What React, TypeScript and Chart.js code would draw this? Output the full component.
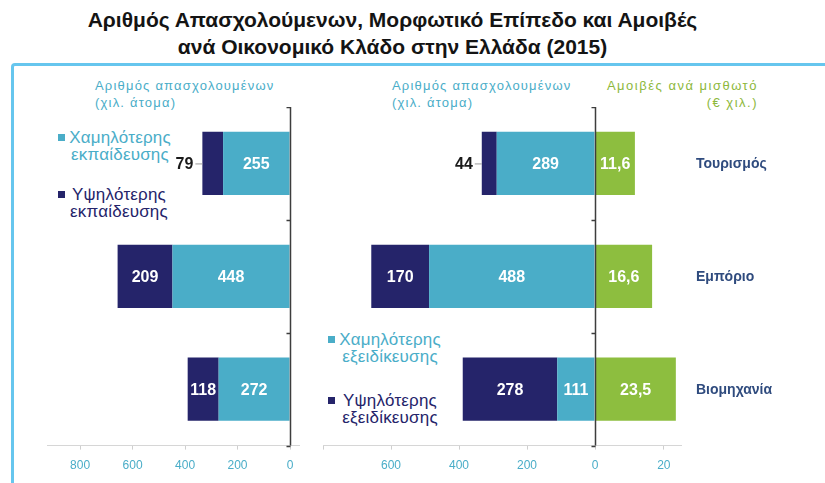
import React, { useEffect, useRef } from "react";
import { Chart, registerables } from "chart.js";

Chart.register(...registerables);

// ---------- data ----------
const categories = ["Τουρισμός", "Εμπόριο", "Βιομηχανία"];
// left panel: employed by education level (thousand persons)
const eduLow = [255, 448, 272];
const eduHigh = [79, 209, 118];
// right panel: employed by skill level (thousand persons)
const skillLow = [289, 488, 111];
const skillHigh = [44, 170, 278];
// right panel: compensation per employee (€ thousand)
const wages = [11.6, 16.6, 23.5];
// tick positions and which of them carry a label
const leftTicks = [0, 200, 400, 600, 800];
const leftTickLabels = [0, 200, 400, 600, 800];
const empTicks = [0, 200, 400, 600, 800];
const empTickLabels = [200, 400, 600];
const wageTicks = [0, 20];
const wageTickLabels = [0, 20];

// ---------- styles ----------
const LIGHT = "#4AADC8";
const NAVY = "#25246A";
const GREEN = "#8DBE3F";
const CAT_COLOR = "#2F4B7E";
const HEADER_BLUE = "#4AADC8";
const HEADER_GREEN = "#8DB83C";
const FONT = "'Liberation Sans', Arial, sans-serif";
const NARROW = "'Liberation Sans Narrow', 'Liberation Sans', Arial, sans-serif";

function makeValueLabels(fmt: (v: number) => string) {
  return {
    id: "valueLabels",
    afterDatasetsDraw(chart: any) {
      const ctx = chart.ctx;
      chart.data.datasets.forEach((ds: any, di: number) => {
        const meta = chart.getDatasetMeta(di);
        meta.data.forEach((bar: any, i: number) => {
          const v = ds.data[i];
          const { x, base, y } = bar.getProps(["x", "base", "y"], true);
          const l = Math.min(x, base);
          const r = Math.max(x, base);
          const w = r - l;
          const text = fmt(v);
          ctx.save();
          ctx.font = `bold 16px ${FONT}`;
          ctx.textBaseline = "middle";
          if (w < 26) {
            ctx.fillStyle = "#1a1a1a";
            ctx.textAlign = "right";
            ctx.fillText(text, l - 9, y + 1);
            ctx.strokeStyle = "#9a9a9a";
            ctx.lineWidth = 1;
            ctx.beginPath();
            ctx.moveTo(l - 7, y + 0.5);
            ctx.lineTo(l, y + 0.5);
            ctx.stroke();
          } else {
            ctx.fillStyle = "#ffffff";
            ctx.textAlign = "center";
            ctx.fillText(text, (l + r) / 2, y + 1);
          }
          ctx.restore();
        });
      });
    },
  };
}

function makeZeroAxis() {
  return {
    id: "zeroAxis",
    afterDatasetsDraw(chart: any) {
      const ctx = chart.ctx;
      const xs = chart.scales.x;
      const area = chart.chartArea;
      const px = Math.round(xs.getPixelForValue(0)) + 0.5;
      const n = chart.data.labels.length;
      ctx.save();
      ctx.strokeStyle = "#3d3d3d";
      ctx.lineWidth = 1.5;
      ctx.beginPath();
      ctx.moveTo(px, area.top);
      ctx.lineTo(px, area.bottom);
      for (let i = 0; i <= n; i++) {
        const yy = Math.round(area.top + (i * (area.bottom - area.top)) / n) + 0.5;
        ctx.moveTo(px - 4, yy);
        ctx.lineTo(px, yy);
      }
      ctx.stroke();
      ctx.restore();
    },
  };
}

function makeCategoryLabels() {
  return {
    id: "categoryLabels",
    afterDatasetsDraw(chart: any) {
      const ctx = chart.ctx;
      const ys = chart.scales.y;
      const area = chart.chartArea;
      ctx.save();
      ctx.font = `bold 14px ${FONT}`;
      ctx.fillStyle = CAT_COLOR;
      ctx.textAlign = "left";
      ctx.textBaseline = "middle";
      chart.data.labels.forEach((lab: string, i: number) => {
        ctx.fillText(lab, area.right + 15, ys.getPixelForValue(i) + 1);
      });
      ctx.restore();
    },
  };
}

type PanelOpts = {
  min: number;
  max: number;
  reverse: boolean;
  ticks: number[];
  shown: number[];
  padding: any;
};

function makeOptions(p: PanelOpts): any {
  return {
    indexAxis: "y",
    animation: false,
    responsive: false,
    maintainAspectRatio: false,
    events: [],
    layout: { padding: p.padding },
    plugins: {
      legend: { display: false },
      tooltip: { enabled: false },
      title: { display: false },
    },
    datasets: {
      bar: { barPercentage: 0.56, categoryPercentage: 1, borderWidth: 0 },
    },
    scales: {
      y: { type: "category", stacked: true, display: false },
      x: {
        type: "linear",
        stacked: true,
        reverse: p.reverse,
        min: p.min,
        max: p.max,
        afterBuildTicks: (scale: any) => {
          scale.ticks = p.ticks.map((v) => ({ value: v }));
        },
        afterFit: (scale: any) => {
          scale.paddingLeft = 0;
          scale.paddingRight = 0;
        },
        border: { display: true, color: "#d6d6d6", width: 1 },
        grid: {
          display: true,
          drawOnChartArea: false,
          drawTicks: true,
          tickLength: 4,
          color: "#cfcfcf",
        },
        ticks: {
          padding: 9,
          color: HEADER_BLUE,
          font: { family: NARROW, size: 12 },
          maxRotation: 0,
          minRotation: 0,
          autoSkip: false,
          callback: (v: number) => (p.shown.includes(v) ? String(v) : ""),
        },
      },
    },
  };
}

const intFmt = (v: number) => String(v);
const decFmt = (v: number) => v.toFixed(1).replace(".", ",");

function ChartCanvas({
  left,
  top,
  width,
  height,
  build,
}: {
  left: number;
  top: number;
  width: number;
  height: number;
  build: () => any;
}) {
  const ref = useRef<HTMLCanvasElement>(null);
  useEffect(() => {
    const chart = new Chart(ref.current as HTMLCanvasElement, build());
    return () => chart.destroy();
  }, []);
  return (
    <canvas
      ref={ref}
      width={width}
      height={height}
      style={{ position: "absolute", left, top, width, height }}
    />
  );
}

function Legend({
  sqLeft,
  cx,
  top,
  color,
  lines,
}: {
  sqLeft: number;
  cx: number;
  top: number;
  color: string;
  lines: string[];
}) {
  return (
    <>
      <div
        style={{
          position: "absolute",
          left: sqLeft,
          top: top + 5,
          width: 7,
          height: 7,
          background: color,
        }}
      />
      <div
        style={{
          position: "absolute",
          left: cx,
          top,
          transform: "translateX(-50%)",
          textAlign: "center",
          whiteSpace: "nowrap",
          font: `17px/17px ${FONT}`,
          letterSpacing: "0.2px",
          color,
        }}
      >
        {lines.map((l, i) => (
          <div key={i}>{l}</div>
        ))}
      </div>
    </>
  );
}

const PANEL_TOP = 107;
const PANEL_H = 375;

export default function App() {
  const headerStyle: React.CSSProperties = {
    position: "absolute",
    top: 77,
    font: `13px/17px ${FONT}`,
    letterSpacing: "1.2px",
    whiteSpace: "nowrap",
  };
  return (
    <div
      style={{
        position: "absolute",
        left: 0,
        top: 0,
        width: 825,
        height: 483,
        background: "#ffffff",
        overflow: "hidden",
      }}
    >
      <div
        style={{
          position: "absolute",
          top: 6,
          left: -20,
          width: 825,
          textAlign: "center",
          font: `bold 21px/27px ${FONT}`,
          color: "#141414",
        }}
      >
        <div>Αριθμός Απασχολούμενων, Μορφωτικό Επίπεδο και Αμοιβές</div>
        <div>ανά Οικονομικό Κλάδο στην Ελλάδα (2015)</div>
      </div>
      <div
        style={{
          position: "absolute",
          left: 11,
          top: 63,
          width: 840,
          height: 440,
          borderTop: "3px solid #66C6EE",
          borderLeft: "3px solid #66C6EE",
          borderTopLeftRadius: 4,
        }}
      />

      <div style={{ ...headerStyle, left: 95, color: HEADER_BLUE }}>
        <div>Αριθμός απασχολουμένων</div>
        <div>(χιλ. άτομα)</div>
      </div>
      <div style={{ ...headerStyle, left: 392, color: HEADER_BLUE }}>
        <div>Αριθμός απασχολουμένων</div>
        <div>(χιλ. άτομα)</div>
      </div>
      <div
        style={{
          ...headerStyle,
          right: 825 - 758,
          textAlign: "right",
          letterSpacing: "1.5px",
          color: HEADER_GREEN,
        }}
      >
        <div>Αμοιβές ανά μισθωτό</div>
        <div>(€ χιλ.)</div>
      </div>

      <Legend sqLeft={58} cx={120} top={129} color={LIGHT} lines={["Χαμηλότερης", "εκπαίδευσης"]} />
      <Legend sqLeft={58} cx={119} top={186} color={NAVY} lines={["Υψηλότερης", "εκπαίδευσης"]} />
      <Legend sqLeft={328} cx={390} top={331} color={LIGHT} lines={["Χαμηλότερης", "εξειδίκευσης"]} />
      <Legend sqLeft={328} cx={390} top={392} color={NAVY} lines={["Υψηλότερης", "εξειδίκευσης"]} />

      <ChartCanvas
        left={47}
        top={PANEL_TOP}
        width={253}
        height={PANEL_H}
        build={() => ({
          type: "bar",
          data: {
            labels: categories,
            datasets: [
              { label: "Χαμηλότερης εκπαίδευσης", data: eduLow, backgroundColor: LIGHT },
              { label: "Υψηλότερης εκπαίδευσης", data: eduHigh, backgroundColor: NAVY },
            ],
          },
          options: makeOptions({
            min: -38,
            max: 926,
            reverse: true,
            ticks: leftTicks,
            shown: leftTickLabels,
            padding: 0,
          }),
          plugins: [makeValueLabels(intFmt), makeZeroAxis()],
        })}
      />
      <ChartCanvas
        left={323}
        top={PANEL_TOP}
        width={272}
        height={PANEL_H}
        build={() => ({
          type: "bar",
          data: {
            labels: categories,
            datasets: [
              { label: "Χαμηλότερης εξειδίκευσης", data: skillLow, backgroundColor: LIGHT },
              { label: "Υψηλότερης εξειδίκευσης", data: skillHigh, backgroundColor: NAVY },
            ],
          },
          options: makeOptions({
            min: 0,
            max: 800,
            reverse: true,
            ticks: empTicks,
            shown: empTickLabels,
            padding: 0,
          }),
          plugins: [makeValueLabels(intFmt)],
        })}
      />
      <ChartCanvas
        left={589}
        top={PANEL_TOP}
        width={211}
        height={PANEL_H}
        build={() => ({
          type: "bar",
          data: {
            labels: categories,
            datasets: [
              { label: "Αμοιβές ανά μισθωτό", data: wages, backgroundColor: GREEN },
            ],
          },
          options: makeOptions({
            min: 0,
            max: 25,
            reverse: false,
            ticks: wageTicks,
            shown: wageTickLabels,
            padding: { left: 6, right: 119, top: 0, bottom: 0 },
          }),
          plugins: [makeValueLabels(decFmt), makeZeroAxis(), makeCategoryLabels()],
        })}
      />
    </div>
  );
}
